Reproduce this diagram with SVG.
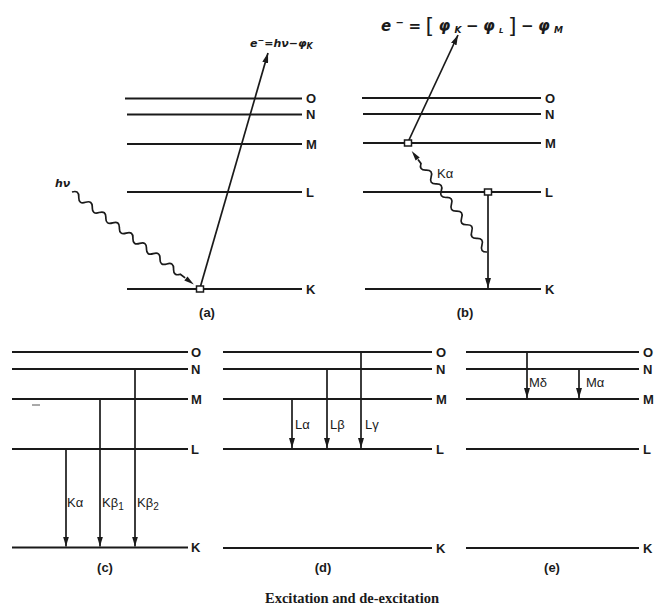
<svg xmlns="http://www.w3.org/2000/svg" width="654" height="609" viewBox="0 0 654 609">
<defs>
<marker id="ah" markerUnits="userSpaceOnUse" markerWidth="10" markerHeight="6" viewBox="0 0 10 6" refX="10" refY="3" orient="auto"><path d="M0,0 L10,3 L0,6 z" fill="#1a1a1a"/></marker>
</defs>
<style>
.lv{stroke:#1a1a1a;stroke-width:2.2;fill:none}
.tr{stroke:#1a1a1a;stroke-width:1.7;fill:none;marker-end:url(#ah)}
.wv{stroke:#1a1a1a;stroke-width:1.7;fill:none}
.lb{font-family:"Liberation Sans",Arial,sans-serif;font-weight:bold;font-size:13px;fill:#1a1a1a}
.tl{font-family:"Liberation Sans",Arial,sans-serif;font-size:13px;fill:#1a1a1a}
.cap{font-family:"Liberation Serif","Times New Roman",serif;font-weight:bold;font-size:14.5px;fill:#1a1a1a}
.eq{font-family:"DejaVu Sans","Liberation Sans",sans-serif;font-weight:bold;font-style:italic;font-size:11px;fill:#1a1a1a}
.eqb{font-family:"DejaVu Sans","Liberation Sans",sans-serif;font-weight:bold;font-style:italic;font-size:15px;fill:#1a1a1a}
.sq{fill:#fff;stroke:#1a1a1a;stroke-width:1.5}
</style>
<rect width="654" height="609" fill="#fff"/>

<g id="panel-a">
<g id="a-O"><line class="lv" x1="125" y1="98.5" x2="302" y2="98.5"/><text class="lb" x="306" y="103">O</text></g>
<g id="a-N"><line class="lv" x1="127" y1="114.5" x2="302" y2="114.5"/><text class="lb" x="306" y="119">N</text></g>
<g id="a-M"><line class="lv" x1="127" y1="144" x2="302" y2="144"/><text class="lb" x="306" y="148.5">M</text></g>
<g id="a-L"><line class="lv" x1="127" y1="192" x2="302" y2="192"/><text class="lb" x="306" y="196.5">L</text></g>
<g id="a-K"><line class="lv" x1="127" y1="289" x2="302" y2="289"/><text class="lb" x="306" y="293.5">K</text></g>
<text class="lb" x="207" y="317" text-anchor="middle">(a)</text>
<text class="eq" x="55" y="187">hν</text>
<text class="eq" x="250" y="47">e<tspan dy="-4" font-size="8">−</tspan><tspan dy="4">=hν−φ</tspan><tspan dy="2" font-size="8">K</tspan></text>
</g>

<g id="panel-b">
<g id="b-O"><line class="lv" x1="362" y1="98" x2="541" y2="98"/><text class="lb" x="545" y="102.5">O</text></g>
<g id="b-N"><line class="lv" x1="363" y1="114" x2="541" y2="114"/><text class="lb" x="545" y="118.5">N</text></g>
<g id="b-M"><line class="lv" x1="363" y1="143" x2="541" y2="143"/><text class="lb" x="545" y="147.5">M</text></g>
<g id="b-L"><line class="lv" x1="363" y1="192" x2="541" y2="192"/><text class="lb" x="545" y="196.5">L</text></g>
<g id="b-K"><line class="lv" x1="365" y1="289" x2="541" y2="289"/><text class="lb" x="545" y="293.5">K</text></g>
<text class="lb" x="465" y="317" text-anchor="middle">(b)</text>
<text class="tl" x="437" y="178">Kα</text>
<text class="eqb" x="381" y="31" textLength="182" lengthAdjust="spacing">e<tspan dy="-5" font-size="10">−</tspan><tspan dy="5">=</tspan><tspan font-size="22" font-style="normal" font-weight="normal" dy="2">[</tspan><tspan dy="-2">φ</tspan><tspan dy="2" font-size="9">K</tspan><tspan dy="-2">−φ</tspan><tspan dy="2" font-size="7">L</tspan><tspan font-size="22" font-style="normal" font-weight="normal">]</tspan><tspan dy="-2">−φ</tspan><tspan dy="2" font-size="9">M</tspan></text>
</g>

<g id="panel-c">
<g id="c-O"><line class="lv" x1="12" y1="352" x2="188" y2="352"/><text class="lb" x="191" y="356.5">O</text></g>
<g id="c-N"><line class="lv" x1="12" y1="369" x2="188" y2="369"/><text class="lb" x="191" y="373.5">N</text></g>
<g id="c-M"><line class="lv" x1="12" y1="399" x2="188" y2="399"/><text class="lb" x="191" y="403.5">M</text></g>
<g id="c-L"><line class="lv" x1="12" y1="449" x2="188" y2="449"/><text class="lb" x="191" y="453.5">L</text></g>
<g id="c-K"><line class="lv" x1="12" y1="547.5" x2="188" y2="547.5"/><text class="lb" x="191" y="552">K</text></g>
<line x1="32" y1="405" x2="40" y2="405" stroke="#555" stroke-width="1"/>
<text class="lb" x="105" y="572" text-anchor="middle">(c)</text>
<text class="tl" x="67" y="507">Kα</text>
<text class="tl" x="102" y="507">Kβ<tspan dy="3" font-size="10">1</tspan></text>
<text class="tl" x="137" y="507">Kβ<tspan dy="3" font-size="10">2</tspan></text>
</g>

<g id="panel-d">
<g id="d-O"><line class="lv" x1="223" y1="352" x2="432" y2="352"/><text class="lb" x="436" y="356.5">O</text></g>
<g id="d-N"><line class="lv" x1="223" y1="369" x2="432" y2="369"/><text class="lb" x="436" y="373.5">N</text></g>
<g id="d-M"><line class="lv" x1="223" y1="399" x2="432" y2="399"/><text class="lb" x="436" y="403.5">M</text></g>
<g id="d-L"><line class="lv" x1="223" y1="449" x2="432" y2="449"/><text class="lb" x="436" y="453.5">L</text></g>
<g id="d-K"><line class="lv" x1="223" y1="548" x2="432" y2="548"/><text class="lb" x="436" y="552.5">K</text></g>
<text class="lb" x="323" y="572" text-anchor="middle">(d)</text>
<text class="tl" x="295" y="429">Lα</text>
<text class="tl" x="330" y="429">Lβ</text>
<text class="tl" x="365" y="429">Lγ</text>
</g>

<g id="panel-e">
<g id="e-O"><line class="lv" x1="466" y1="352" x2="639" y2="352"/><text class="lb" x="643" y="356.5">O</text></g>
<g id="e-N"><line class="lv" x1="466" y1="369" x2="639" y2="369"/><text class="lb" x="643" y="373.5">N</text></g>
<g id="e-M"><line class="lv" x1="466" y1="399" x2="639" y2="399"/><text class="lb" x="643" y="403.5">M</text></g>
<g id="e-L"><line class="lv" x1="466" y1="449" x2="639" y2="449"/><text class="lb" x="643" y="453.5">L</text></g>
<g id="e-K"><line class="lv" x1="466" y1="548" x2="639" y2="548"/><text class="lb" x="643" y="552.5">K</text></g>
<text class="lb" x="552" y="572" text-anchor="middle">(e)</text>
<text class="tl" x="529" y="387">Mδ</text>
<text class="tl" x="586" y="387">Mα</text>
</g>

<g id="connectors">
<!-- (a) -->
<line class="tr" x1="200" y1="288" x2="268" y2="53"/>
<g transform="translate(72,192) rotate(37.2)">
<path class="wv" d="M0 0 q4.25 -6 8.5 0 t8.5 0 t8.5 0 t8.5 0 t8.5 0 t8.5 0 t8.5 0 t8.5 0 t8.5 0 t8.5 0 t8.5 0 t8.5 0 t8.5 0 t8.5 0 t8.5 0 t8.5 0 l6 0"/>
<polygon points="143,-2.6 153,0 143,2.6" fill="#1a1a1a"/>
</g>
<rect class="sq" x="196.5" y="286" width="7" height="6"/>
<!-- (b) -->
<line class="tr" x1="408" y1="142" x2="458" y2="35"/>
<line class="tr" x1="488" y1="192" x2="488" y2="288"/>
<g transform="translate(487,252) rotate(233.3)">
<path class="wv" d="M0 0 q4.25 -6 8.5 0 t8.5 0 t8.5 0 t8.5 0 t8.5 0 t8.5 0 t8.5 0 t8.5 0 t8.5 0 t8.5 0 t8.5 0 t8.5 0 t8.5 0 l5 0"/>
<polygon points="116,-2.6 126,0 116,2.6" fill="#1a1a1a"/>
</g>
<rect class="sq" x="404.5" y="140" width="7" height="6"/>
<rect class="sq" x="484.5" y="189" width="7" height="6"/>
<!-- (c) -->
<line class="tr" x1="66" y1="449" x2="66" y2="546.5"/>
<line class="tr" x1="100" y1="399" x2="100" y2="546.5"/>
<line class="tr" x1="135" y1="369" x2="135" y2="546.5"/>
<!-- (d) -->
<line class="tr" x1="292" y1="399" x2="292" y2="448"/>
<line class="tr" x1="327" y1="369" x2="327" y2="448"/>
<line class="tr" x1="361" y1="352" x2="361" y2="448"/>
<!-- (e) -->
<line class="tr" x1="527" y1="352" x2="527" y2="398"/>
<line class="tr" x1="579" y1="369" x2="579" y2="398"/>
</g>

<text class="cap" x="352" y="603" text-anchor="middle">Excitation and de-excitation</text>
</svg>
